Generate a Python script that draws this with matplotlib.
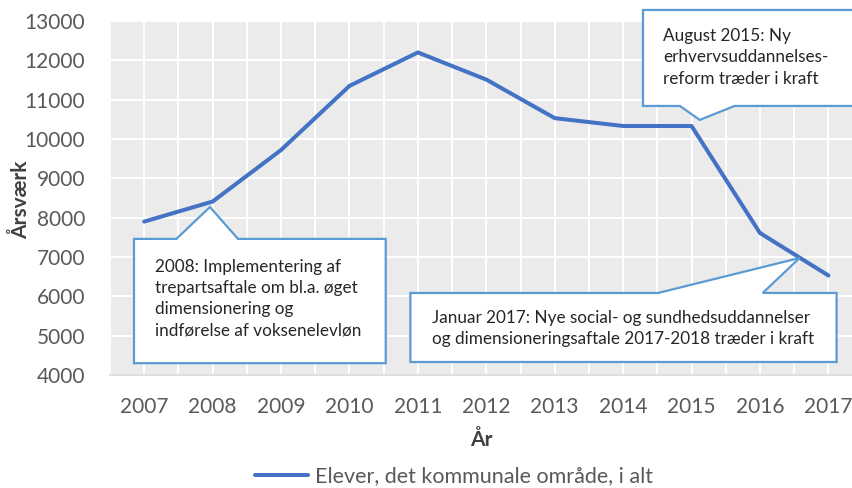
import matplotlib.pyplot as plt
from matplotlib.patches import Polygon
import numpy as np

plt.rcParams['font.family'] = ['Lato', 'DejaVu Sans']

years = [2007, 2008, 2009, 2010, 2011, 2012, 2013, 2014, 2015, 2016, 2017]
elever = [7900, 8410, 9720, 11350, 12200, 11510, 10530, 10330, 10330, 7610, 6530]
series_name = 'Elever, det kommunale område, i alt'

note_2008 = ('2008: Implementering af\ntrepartsaftale om bl.a. øget\n'
             'dimensionering og\nindførelse af voksenelevløn')
note_2015 = 'August 2015: Ny\nerhvervsuddannelses-\nreform træder i kraft'
note_2017 = ('Januar 2017: Nye social- og sundhedsuddannelser\n'
             'og dimensioneringsaftale 2017-2018 træder i kraft')

line_col = '#4472C4'
box_col = '#5B9BD5'
tick_col = '#595959'


def callout(ax, x0, x1, y0, y1, b1, b2, tip, top=True):
    # box with a pointer notch on the top or bottom edge
    if top:
        pts = [(x0, y0), (x1, y0), (x1, y1), (b2, y1), tip, (b1, y1), (x0, y1)]
    else:
        pts = [(x0, y1), (x1, y1), (x1, y0), (b2, y0), tip, (b1, y0), (x0, y0)]
    ax.add_patch(Polygon(pts, closed=True, facecolor='white', edgecolor=box_col,
                         linewidth=1.6, zorder=5, clip_on=False))


fig = plt.figure(figsize=(8.53, 4.88), dpi=100)
ax = fig.add_axes([0.129, 0.2316, 0.871, 0.7254])
ax.set_facecolor('#EBEBEB')

ax.plot(years, elever, color=line_col, linewidth=2.9, solid_capstyle='round',
        solid_joinstyle='round', label=series_name, zorder=3)

ax.set_xlim(2006.5, 2017.36)
ax.set_ylim(4000, 13000)
ax.set_xticks(years)
ax.set_xticks(np.arange(2006.5, 2017.5, 1.0), minor=True)
ax.set_yticks(range(4000, 13001, 1000))
ax.grid(True, which='both', color='white', linewidth=1.4)
ax.set_axisbelow(True)
ax.tick_params(axis='both', which='both', length=0, colors=tick_col, labelsize=15)
ax.tick_params(axis='x', pad=15.5)
ax.tick_params(axis='y', pad=18)
for s in ['top', 'right', 'left']:
    ax.spines[s].set_visible(False)
ax.spines['bottom'].set_color('#D9D9D9')
ax.spines['bottom'].set_linewidth(1.2)

ax.set_xlabel('År', fontsize=15, fontweight='bold', color='#404040', labelpad=10)
ax.set_ylabel('Årsværk', fontsize=15, fontweight='bold', color='#404040')
ax.yaxis.set_label_coords(-0.106, 0.494)

# callouts
callout(ax, 2006.85, 2010.53, 4300, 7460, 2007.47, 2008.37, (2007.96, 8270))
ax.text(2007.15, 5945, note_2008, fontsize=12.3, color='#262626', va='center',
        ha='left', linespacing=1.4, zorder=6)

callout(ax, 2010.89, 2017.12, 4330, 6085, 2014.51, 2016.04, (2016.58, 6975))
ax.text(2011.21, 5183, note_2017, fontsize=12.3, color='#262626', va='center',
        ha='left', linespacing=1.4, zorder=6)

callout(ax, 2014.29, 2017.8, 10840, 13280, 2014.83, 2015.63, (2015.12, 10485), top=False)
ax.text(2014.58, 12074, note_2015, fontsize=12.3, color='#262626', va='center',
        ha='left', linespacing=1.4, zorder=6, clip_on=False)

leg = fig.legend(loc='lower center', bbox_to_anchor=(0.532, -0.036), frameon=False,
                 fontsize=15.5, handlelength=2.5, handletextpad=0.3)
for t in leg.get_texts():
    t.set_color(tick_col)

fig.savefig('out.png', dpi=100)
